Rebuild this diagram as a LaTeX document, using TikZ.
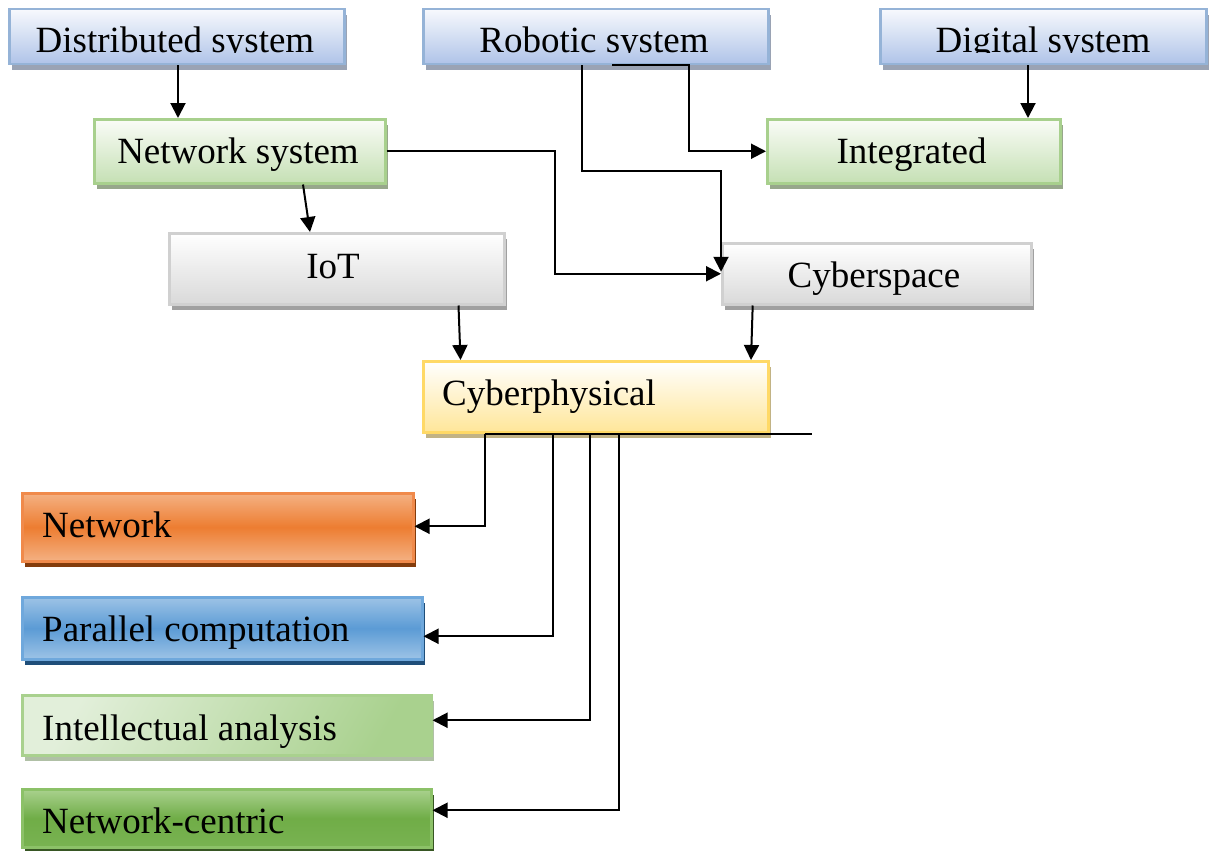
\documentclass[tikz,border=0pt]{standalone}
\usepackage{fontspec}
\setmainfont{Liberation Serif}
\usetikzlibrary{arrows.meta,shadows,calc}

\definecolor{blueB}{HTML}{95B3D7}
\definecolor{blueT}{HTML}{F7F9FD}
\definecolor{blueL}{HTML}{AFC3E8}
\definecolor{blueS}{HTML}{9AA3B4}
\definecolor{greenB}{HTML}{A8D08D}
\definecolor{greenT}{HTML}{FAFCF7}
\definecolor{greenL}{HTML}{C5E0B4}
\definecolor{greenS}{HTML}{97A78B}
\definecolor{grayB}{HTML}{D0D0D0}
\definecolor{grayL}{HTML}{D9D9D9}
\definecolor{grayS}{HTML}{A0A0A0}
\definecolor{yelB}{HTML}{FFD966}
\definecolor{yelL}{HTML}{FFE699}
\definecolor{yelS}{HTML}{C2B385}
\definecolor{orB}{HTML}{F08A4B}
\definecolor{orM}{HTML}{ED7D31}
\definecolor{orL}{HTML}{F4B183}
\definecolor{orS}{HTML}{843C0C}
\definecolor{bluB}{HTML}{6FA8DC}
\definecolor{bluM}{HTML}{5B9BD5}
\definecolor{bluL}{HTML}{9DC3E6}
\definecolor{bluS}{HTML}{1F4E79}
\definecolor{lgB}{HTML}{A9D18E}
\definecolor{lgP}{HTML}{E2EFDA}
\definecolor{lgS}{HTML}{B0C0A6}
\definecolor{dgB}{HTML}{8CC168}
\definecolor{dgM}{HTML}{70AD47}
\definecolor{dgS}{HTML}{375623}

\tikzset{
  box/.style={draw, line width=2.5pt, inner sep=0pt, anchor=north west},
  shad/.style={drop shadow={shadow xshift=3pt, shadow yshift=-5.5pt, fill=#1, opacity=1}},
  topbox/.style={box, draw=blueB, top color=blueT, bottom color=blueL, shad=blueS},
  greenbox/.style={box, draw=greenB, top color=greenT, bottom color=greenL, shad=greenS},
  graybox/.style={box, draw=grayB, top color=white, bottom color=grayL, shad=grayS},
  yelbox/.style={box, draw=yelB, top color=white, bottom color=yelL, shad=yelS},
  label/.style={inner sep=0pt, font=\fontsize{37}{44}\selectfont},
  arr/.style={line width=2pt, -{Triangle[length=15pt,width=15pt]}},
  ln/.style={line width=2pt}
}

\begin{document}
\begin{tikzpicture}[x=1pt, y=-1pt]
\useasboundingbox (0,0) rectangle (1210,851);

% top row
\node[topbox, minimum width=335pt, minimum height=55pt] (ds) at (8,8) {};
\node[topbox, minimum width=345pt, minimum height=55pt] (rs) at (422,8) {};
\node[topbox, minimum width=326pt, minimum height=55pt] (dg) at (879,8) {};
\begin{scope}
  \clip (0,0) rectangle (1210,53);
  \node[label, anchor=base] (dst) at (175,52.5) {Distributed system};
  \node[label, anchor=base] (rst) at (594,52.5) {Robotic system};
  \node[label, anchor=base] (dgt) at (1043,52.5) {Digital system};
\end{scope}

% second row
\node[greenbox, minimum width=291pt, minimum height=64pt] (ns) at (93,118) {};
\node[label, anchor=base] (nst) at (238,163) {Network system};
\node[greenbox, minimum width=293pt, minimum height=64pt] (ig) at (766,118) {};
\node[label, anchor=base] (igt) at (911.5,163) {Integrated};

% third row
\node[graybox, minimum width=335pt, minimum height=71pt] (iot) at (168,232) {};
\node[label, anchor=base] (iott) at (333,278) {IoT};
\node[graybox, minimum width=309pt, minimum height=61pt] (cs) at (721,242) {};
\node[label, anchor=base] (cst) at (874,287) {Cyberspace};

% hub
\node[yelbox, minimum width=345pt, minimum height=71pt] (cp) at (422,360) {};
\node[label, anchor=base west] (cpt) at (442,405) {Cyberphysical};

% bottom column
\node[box, draw=orB, top color=orL, bottom color=orL, middle color=orM, shad=orS,
      minimum width=391pt, minimum height=68pt] (nw) at (21,492) {};
\node[label, anchor=base west] (nwt) at (42,537) {Network};
\node[box, draw=bluB, top color=bluL, bottom color=bluL, middle color=bluM, shad=bluS,
      minimum width=400pt, minimum height=62pt] (pc) at (21,596) {};
\node[label, anchor=base west] (pct) at (42,641.5) {Parallel computation};
\node[box, draw=lgB, left color=lgP, right color=lgB, shading angle=60, shad=lgS,
      minimum width=409pt, minimum height=60pt] (ia) at (21,694) {};
\node[label, anchor=base west] (iat) at (42,740) {Intellectual analysis};
\node[box, draw=dgB, top color=lgB, bottom color=dgM!85!lgB, middle color=dgM, shad=dgS,
      minimum width=409pt, minimum height=58pt] (nc) at (21,788) {};
\node[label, anchor=base west] (nct) at (42,833) {Network-centric};

% connectors
\draw[arr] ([xshift=170pt]ds.south west) -- ([xshift=85pt]ns.north west);
\draw[arr] ([xshift=210pt]ns.south west) -- ([xshift=142pt]iot.north west);
\draw[arr] (ns.east) -- ++(168,0) |- (cs.west);
\draw[arr] ([xshift=160pt]rs.south west) -- ++(0,105) -| ([yshift=2pt]cs.west);
\draw[arr] ([xshift=190pt]rs.south west) -- ++(77,0) |- (ig.west);
\draw[arr] ([xshift=149pt]dg.south west) -- ([xshift=262pt]ig.north west);
\draw[arr] ([xshift=290.5pt]iot.south west) -- ([xshift=38.5pt]cp.north west);
\draw[arr] ([xshift=31.7pt]cs.south west) -- ([xshift=329pt]cp.north west);

\coordinate (bus) at ([xshift=62.6pt]cp.south west);
\draw[ln] (bus) -- ([xshift=390pt]cp.south west);
\draw[arr] (bus) |- ([yshift=1pt]nw.east);
\draw[arr] ([xshift=130.8pt]cp.south west) |- ([yshift=-8pt]pc.east);
\draw[arr] ([xshift=167.8pt]cp.south west) |- ([yshift=5pt]ia.east);
\draw[arr] ([xshift=197.3pt]cp.south west) |- ([yshift=8pt]nc.east);
\end{tikzpicture}
\end{document}
